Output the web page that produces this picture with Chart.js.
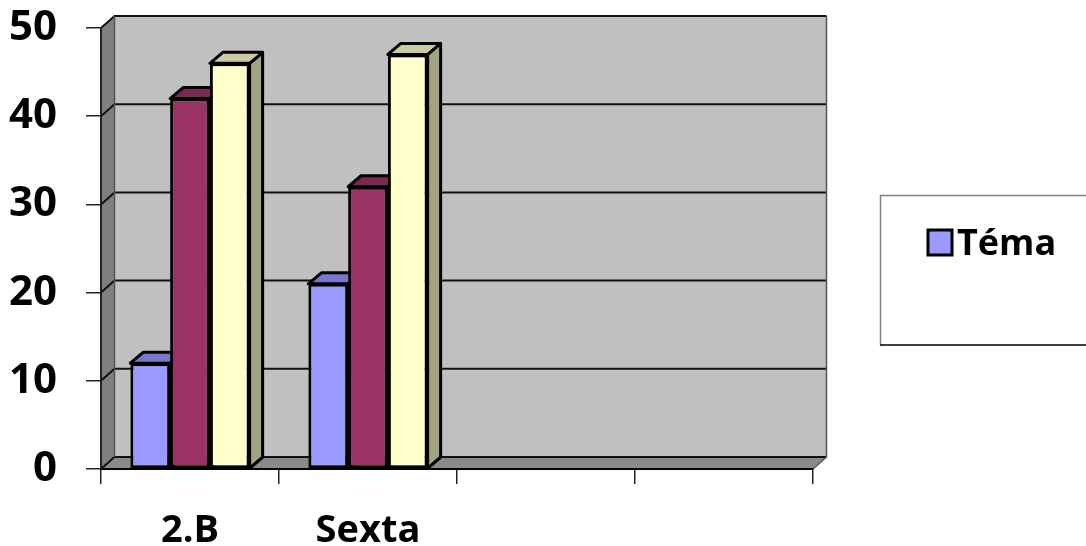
<!DOCTYPE html>
<html>
<head>
<meta charset="utf-8">
<script src="https://cdn.jsdelivr.net/npm/chart.js@4/dist/chart.umd.min.js"></script>
<style>
  html, body { margin: 0; padding: 0; background: #ffffff; }
  #wrap { width: 1086px; height: 546px; position: relative; }
</style>
</head>
<body>
<div id="wrap"><canvas id="chart"></canvas></div>
<script>
// Categories along the x axis (two empty slots keep the wide floor)
const categories = ['2.B', 'Sexta', '', ''];
// Series names (only the first one is named in the legend)
const seriesNames = ['Téma', '', ''];
// Series values per category
const blueValues = [12, 21, null, null];
const maroonValues = [42, 32, null, null];
const yellowValues = [46, 47, null, null];
// Value axis
const yMin = 0;
const yMax = 50;
const yStep = 10;

const FONT = '"Open Sans", Lato, "DejaVu Sans", sans-serif';

// Depth of the back wall and of each column
const WALL_DX = 13.5, WALL_DY = -12;
const BAR_DX = 13, BAR_DY = -11;

function poly(ctx, pts, fill, stroke, lw) {
  ctx.beginPath();
  ctx.moveTo(pts[0][0], pts[0][1]);
  for (let k = 1; k < pts.length; k++) ctx.lineTo(pts[k][0], pts[k][1]);
  ctx.closePath();
  if (fill) { ctx.fillStyle = fill; ctx.fill(); }
  if (stroke) { ctx.strokeStyle = stroke; ctx.lineWidth = lw; ctx.stroke(); }
}

// Back wall, side wall, floor and gridlines
const wallPlugin = {
  id: 'wall3d',
  beforeDraw(chart) {
    const ctx = chart.ctx;
    const a = chart.chartArea;
    const y = chart.scales.y;
    ctx.save();
    ctx.lineJoin = 'miter';
    // back wall
    poly(ctx, [[a.left + WALL_DX, a.top + WALL_DY], [a.right + WALL_DX, a.top + WALL_DY],
               [a.right + WALL_DX, a.bottom + WALL_DY], [a.left + WALL_DX, a.bottom + WALL_DY]],
         '#c0c0c0', null, 0);
    // left wall
    poly(ctx, [[a.left, a.top], [a.left + WALL_DX, a.top + WALL_DY],
               [a.left + WALL_DX, a.bottom + WALL_DY], [a.left, a.bottom]],
         '#808080', null, 0);
    // floor
    poly(ctx, [[a.left, a.bottom], [a.left + WALL_DX, a.bottom + WALL_DY],
               [a.right + WALL_DX, a.bottom + WALL_DY], [a.right, a.bottom]],
         '#8a8a8a', null, 0);
    // gridlines across the back wall and the side wall
    ctx.strokeStyle = '#111111';
    ctx.lineWidth = 2;
    for (let v = yMin; v <= yMax; v += yStep) {
      const py = y.getPixelForValue(v);
      ctx.beginPath();
      ctx.moveTo(a.left, py);
      ctx.lineTo(a.left + WALL_DX, py + WALL_DY);
      ctx.lineTo(a.right + WALL_DX, py + WALL_DY);
      ctx.stroke();
    }
    // wall outlines
    ctx.strokeStyle = '#555555';
    ctx.lineWidth = 1.5;
    ctx.beginPath();
    ctx.moveTo(a.right + WALL_DX, a.top + WALL_DY);
    ctx.lineTo(a.right + WALL_DX, a.bottom + WALL_DY);
    ctx.lineTo(a.right, a.bottom);
    ctx.stroke();
    ctx.beginPath();
    ctx.moveTo(a.left + WALL_DX, a.top + WALL_DY);
    ctx.lineTo(a.left + WALL_DX, a.bottom + WALL_DY);
    ctx.stroke();
    ctx.restore();
  },
  // columns drawn left to right so each front face covers its neighbour's depth
  beforeDatasetsDraw(chart) {
    const ctx = chart.ctx;
    ctx.save();
    ctx.lineJoin = 'round';
    const n = chart.data.labels.length;
    for (let j = 0; j < n; j++) {
      chart.data.datasets.forEach((ds, i) => {
        const val = ds.data[j];
        if (val === null || val === undefined) return;
        const bar = chart.getDatasetMeta(i).data[j];
        const p = bar.getProps(['x', 'y', 'base', 'width'], true);
        const l = p.x - p.width / 2, r = p.x + p.width / 2;
        const t = p.y, b = p.base;
        poly(ctx, [[r, t], [r + BAR_DX, t + BAR_DY], [r + BAR_DX, b + BAR_DY], [r, b]],
             ds.sideColor, '#000000', 3);
        poly(ctx, [[l, t], [l + BAR_DX, t + BAR_DY], [r + BAR_DX, t + BAR_DY], [r, t]],
             ds.topColor, '#000000', 3);
        bar.draw(ctx, chart.chartArea);
      });
    }
    ctx.restore();
    return false;
  },
  // boxed legend at the right
  afterDraw(chart) {
    const ctx = chart.ctx;
    ctx.save();
    const bx = 880, by = 195, bw = 230, bh = 150;
    ctx.fillStyle = '#ffffff';
    ctx.fillRect(bx, by, bw, bh);
    ctx.strokeStyle = '#808080';
    ctx.lineWidth = 1.5;
    ctx.beginPath();
    ctx.moveTo(bx + bw, by + 0.5); ctx.lineTo(bx + 0.5, by + 0.5); ctx.lineTo(bx + 0.5, by + bh);
    ctx.stroke();
    ctx.strokeStyle = '#000000';
    ctx.beginPath();
    ctx.moveTo(bx, by + bh); ctx.lineTo(bx + bw, by + bh);
    ctx.stroke();
    let row = 0;
    chart.data.datasets.forEach(ds => {
      if (!ds.label) return;
      const sy = 230 + row * 40;
      ctx.fillStyle = ds.backgroundColor;
      ctx.fillRect(928, sy, 24, 25);
      ctx.strokeStyle = '#000000';
      ctx.lineWidth = 3;
      ctx.strokeRect(928, sy, 24, 25);
      ctx.fillStyle = '#000000';
      ctx.font = 'bold 36px ' + FONT;
      ctx.textBaseline = 'alphabetic';
      ctx.textAlign = 'left';
      ctx.fillText(ds.label, 957, sy + 25);
      row++;
    });
    ctx.restore();
  }
};

const datasets = [
  { label: seriesNames[0], data: blueValues, backgroundColor: '#9999ff', topColor: '#7777cc', sideColor: '#6b6bb3' },
  { label: seriesNames[1], data: maroonValues, backgroundColor: '#993366', topColor: '#7a2952', sideColor: '#6b2447' },
  { label: seriesNames[2], data: yellowValues, backgroundColor: '#ffffcc', topColor: '#cccca3', sideColor: '#a3a382' }
].map(d => Object.assign(d, { borderColor: '#000000', borderWidth: 3, borderSkipped: false }));

new Chart(document.getElementById('chart'), {
  type: 'bar',
  data: { labels: categories, datasets: datasets },
  options: {
    responsive: true,
    maintainAspectRatio: false,
    animation: false,
    layout: { padding: { left: 0, top: 28, right: 273, bottom: 0 } },
    categoryPercentage: 0.67,
    barPercentage: 1.0,
    plugins: { legend: { display: false }, tooltip: { enabled: false } },
    scales: {
      x: {
        afterFit(scale) { scale.height = 77; scale.paddingLeft = 0; scale.paddingRight = 0; },
        grid: { drawOnChartArea: false, drawTicks: true, tickLength: 15, color: '#222222', lineWidth: 1.5 },
        border: { display: true, color: '#000000', width: 2 },
        ticks: { color: '#000000', padding: 24, font: { family: FONT, size: 38, weight: 'bold' } }
      },
      y: {
        min: yMin, max: yMax,
        afterFit(scale) { scale.width = 101; scale.paddingTop = 0; scale.paddingBottom = 0; },
        grid: { drawOnChartArea: false, drawTicks: true, tickLength: 15, color: '#222222', lineWidth: 1.5 },
        border: { display: true, color: '#222222', width: 2 },
        ticks: { stepSize: yStep, color: '#000000', padding: 29, font: { family: FONT, size: 42, weight: 'bold' } }
      }
    }
  },
  plugins: [wallPlugin]
});
</script>
</body>
</html>
